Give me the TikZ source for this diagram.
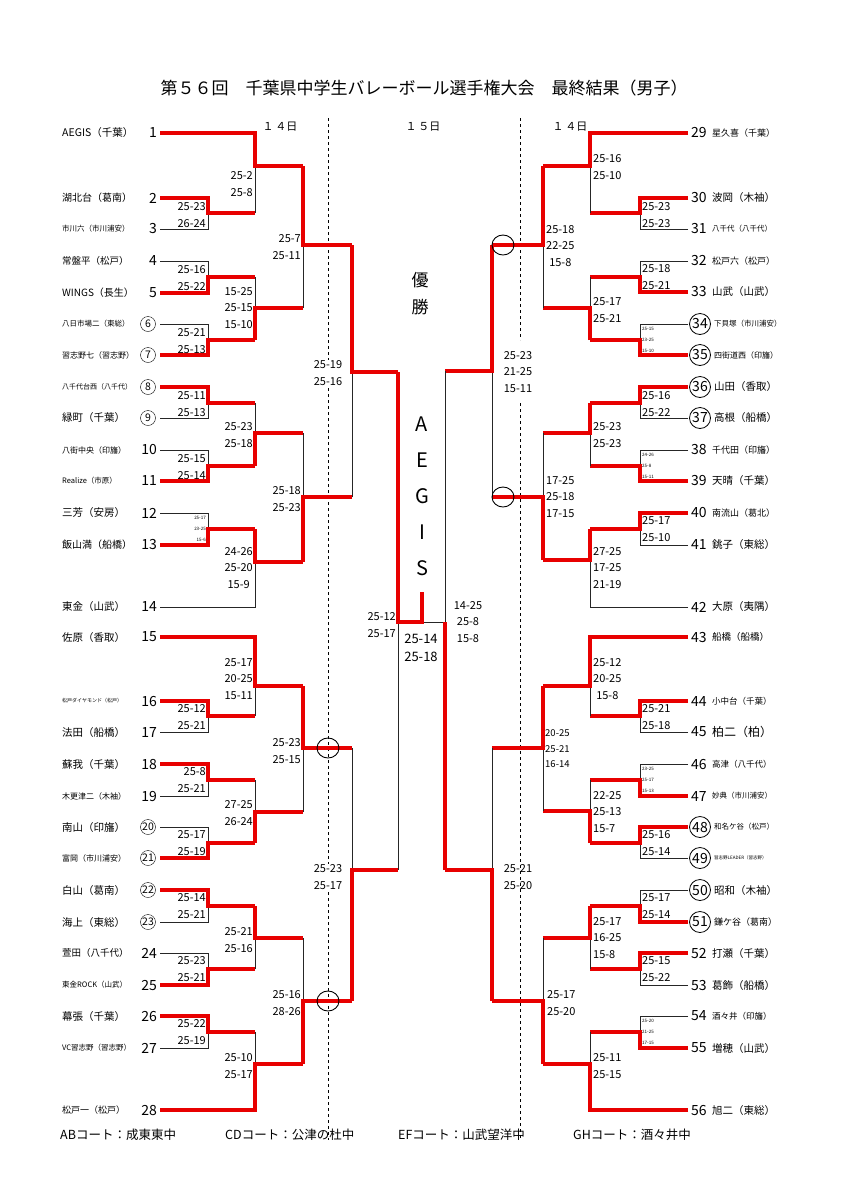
\documentclass[tikz,border=0pt]{standalone}
\usepackage{fontspec}
\setmainfont{Noto Sans CJK JP}
\usetikzlibrary{calc}
\definecolor{winred}{RGB}{232,0,0}
\tikzset{
  win/.style={winred,line width=3.4pt},
  lose/.style={black!85,line width=0.9pt},
  score/.style={inner sep=0pt,align=center,font=\fontsize{11}{16.5}\selectfont},
  tiny/.style={inner sep=0pt,font=\fontsize{4.5}{11}\selectfont},
  num/.style={inner sep=0pt,font=\fontsize{14}{14}\selectfont},
  cnumL/.style={circle,draw,inner sep=0.3pt,minimum size=15pt,font=\fontsize{10.5}{10.5}\selectfont},
  cnumR/.style={circle,draw,thick,inner sep=0.3pt,minimum size=21pt,font=\fontsize{14}{14}\selectfont},
}
% one match: winner end, loser end, column, middle, next column
\newcommand\mt[7]{\draw[lose] (#3,#4) -| (#5,#6); \draw[win] (#1,#2) -| (#5,#6) -- (#7,#6);}
\begin{document}
\begin{tikzpicture}[x=1pt,y=-1pt]
  \useasboundingbox (0,0) rectangle (849,1200);
  \fill[white] (0,0) rectangle (849,1200);
  \node[font=\fontsize{17}{17}\selectfont] (title) at (424,88) {第５６回　千葉県中学生バレーボール選手権大会　最終結果（男子）};
  \node[font=\fontsize{11}{11}\selectfont] (dayA) at (280,127) {１\,４日};
  \node[font=\fontsize{11}{11}\selectfont] (dayB) at (423,127) {１\,５日};
  \node[font=\fontsize{11}{11}\selectfont] (dayC) at (570,127) {１\,４日};
  % day borders
  \draw[dashed,line width=0.8pt] (328,118) -- (328,1140);
  \draw[dashed,line width=0.8pt] (520,118) -- (520,340);
  \draw[dashed,line width=0.8pt] (520,403) -- (520,1140);
  %
  % Left side, first round
  \foreach \yw/\yl/\ym in {198/229/213, 293/261/277, 355/324/340, 387/418/403, 481/450/466, 545/513/529,
      701/732/716, 764/796/780, 858/827/843, 890/922/906, 985/953/969, 1016/1048/1032}
    {\mt{160}{\yw}{160}{\yl}{208}{\ym}{255}}
  % Left side, later rounds
  \mt{160}{133}{255}{213}{255}{166}{303}
  \mt{255}{340}{255}{277}{255}{308}{303}
  \mt{255}{466}{255}{403}{255}{433}{303}
  \mt{255}{529}{160}{607}{255}{562}{303}
  \mt{160}{637}{255}{716}{255}{686}{303}
  \mt{255}{843}{255}{780}{255}{812}{303}
  \mt{255}{906}{255}{969}{255}{938}{303}
  \mt{160}{1110}{255}{1032}{255}{1064}{303}
  \mt{303}{166}{303}{308}{303}{245}{352}
  \mt{303}{562}{303}{433}{303}{497}{352}
  \mt{303}{686}{303}{812}{303}{748}{352}
  \mt{303}{1064}{303}{938}{303}{1001}{352}
  \mt{352}{245}{352}{497}{352}{372}{398}
  \mt{352}{1001}{352}{748}{352}{870}{398}
  %
  % Right side, first round
  \foreach \yw/\yl/\ym in {198/229/213, 292/261/277, 355/324/340, 387/418/403, 481/450/466, 513/545/529,
      701/732/716, 796/764/780, 827/858/843, 922/890/906, 953/985/969, 1048/1016/1032}
    {\mt{688}{\yw}{688}{\yl}{640}{\ym}{590}}
  % Right side, later rounds
  \mt{688}{133}{590}{213}{590}{166}{543}
  \mt{590}{340}{590}{277}{590}{308}{543}
  \mt{590}{403}{590}{466}{590}{433}{543}
  \mt{590}{529}{688}{607}{590}{560}{543}
  \mt{688}{637}{590}{716}{590}{686}{543}
  \mt{590}{843}{590}{780}{590}{811}{543}
  \mt{590}{906}{590}{969}{590}{938}{543}
  \mt{688}{1110}{590}{1032}{590}{1064}{543}
  \mt{543}{166}{543}{308}{543}{245}{492}
  \mt{543}{560}{543}{433}{543}{497}{492}
  \mt{543}{686}{543}{811}{543}{748}{492}
  \mt{543}{1064}{543}{938}{543}{1001}{492}
  \mt{492}{245}{492}{497}{492}{371}{445}
  \mt{492}{1001}{492}{748}{492}{870}{445}
  %
  % Final
  \coordinate (fin) at (422,622);
  \draw[lose] (398,622) -- (398,870);
  \draw[lose] (445,371) -- (445,622) -- (fin);
  \draw[win] (445,870) -- (445,622);
  \draw[win] (398,372) -- (398,622) -- (fin) -- (422,592);
  % court change marks
  \foreach \cx/\cy in {328/748, 328/1001, 503/245, 503/497}
    \draw[line width=0.9pt] (\cx,\cy) ellipse (11 and 10);
  %
  % Teams, left
  \foreach \y/\s/\t in {133/10.5/AEGIS（千葉）, 198/10/湖北台（葛南）, 229/7.5/市川六（市川浦安）, 261/9.5/常盤平（松戸）,
      293/10/WINGS（長生）, 324/7.5/八日市場二（東総）, 355/8/習志野七（習志野）, 387/7/八千代台西（八千代）,
      418/10.5/緑町（千葉）, 450/8/八街中央（印旛）, 481/7.5/Realize（市原）, 513/10.5/三芳（安房）,
      545/10/飯山満（船橋）, 607/10.5/東金（山武）, 637/10.5/佐原（香取）, 701/5/松戸ダイヤモンド（松戸）,
      732/10.5/法田（船橋）, 764/10.5/蘇我（千葉）, 796/8/木更津二（木袖）, 827/10.5/南山（印旛）,
      858/8/富岡（市川浦安）, 890/10.5/白山（葛南）, 922/10.5/海上（東総）, 953/9.5/萱田（八千代）,
      985/7.5/東金ROCK（山武）, 1016/10.5/幕張（千葉）, 1048/7.5/VC習志野（習志野）, 1110/9/松戸一（松戸）}
    \node[anchor=west,inner sep=0pt,font=\fontsize{\s}{\s}\selectfont] at (62,\y) {\t};
  \foreach \n/\y in {1/133, 2/198, 3/229, 4/261, 5/293, 10/450, 11/481, 12/513, 13/545, 14/607, 15/637,
      16/701, 17/732, 18/764, 19/796, 24/953, 25/985, 26/1016, 27/1048, 28/1110}
    \node[num,anchor=east] (L\n) at (157,\y) {\n};
  \foreach \n/\y in {6/324, 7/355, 8/387, 9/418, 20/827, 21/858, 22/890, 23/922}
    \node[cnumL] (L\n) at (148,\y) {\n};
  % Teams, right
  \foreach \y/\s/\t in {133/9/星久喜（千葉）, 198/10.5/波岡（木袖）, 229/7.5/八千代（八千代）, 261/9/松戸六（松戸）,
      292/10.5/山武（山武）, 450/9/千代田（印旛）, 481/10.5/天晴（千葉）,
      513/9/南流山（葛北）, 545/10.5/銚子（東総）, 607/10.5/大原（夷隅）, 637/9.5/船橋（船橋）,
      701/8.5/小中台（千葉）, 732/12/柏二（柏）, 764/8.5/高津（八千代）, 796/7.5/妙典（市川浦安）,
      953/10.5/打瀬（千葉）, 985/10.5/葛飾（船橋）, 1016/8.5/酒々井（印旛）, 1048/10.5/増穂（山武）, 1110/10.5/旭二（東総）}
    \node[anchor=west,inner sep=0pt,font=\fontsize{\s}{\s}\selectfont] at (712,\y) {\t};
  \foreach \y/\s/\t in {324/7.5/下貝塚（市川浦安）, 355/8/四街道西（印旛）, 387/10.5/山田（香取）, 418/10.5/高根（船橋）,
      827/7.5/和名ケ谷（松戸）, 858/4.5/習志野LEADER（習志野）, 890/10.5/昭和（木袖）, 922/9/鎌ケ谷（葛南）}
    \node[anchor=west,inner sep=0pt,font=\fontsize{\s}{\s}\selectfont] at (714,\y) {\t};
  \foreach \n/\y in {29/133, 30/198, 31/229, 32/261, 33/292, 38/450, 39/481, 40/513, 41/545, 42/607,
      43/637, 44/701, 45/732, 46/764, 47/796, 52/953, 53/985, 54/1016, 55/1048, 56/1110}
    \node[num,anchor=west] (R\n) at (691,\y) {\n};
  \foreach \n/\y in {34/324, 35/355, 36/387, 37/418, 48/827, 49/858, 50/890, 51/922}
    \node[cnumR] (R\n) at (700,\y) {\n};
  %
  % Scores, left
  \foreach \y/\t in {215/25-23\\26-24, 278/25-16\\25-22, 341/25-21\\25-13, 404/25-11\\25-13, 467/25-15\\25-14,
      717/25-12\\25-21, 780/25-8\\25-21, 843/25-17\\25-19, 906/25-14\\25-21, 969/25-23\\25-21, 1032/25-22\\25-19}
    \node[score,anchor=east,align=right] at (206,\y) {\t};
  \node[tiny,anchor=east,align=right] at (206,529) {25-17\\23-25\\15-6};
  \foreach \y/\t in {184/25-2\\25-8, 308/15-25\\25-15\\15-10, 435/25-23\\25-18, 568/24-26\\25-20\\15-9,
      679/25-17\\20-25\\15-11, 813/27-25\\26-24, 940/25-21\\25-16, 1066/25-10\\25-17}
    \node[score,anchor=east] at (253,\y) {\t};
  \foreach \y/\t in {247/25-7\\25-11, 499/25-18\\25-23, 751/25-23\\25-15, 1003/25-16\\28-26}
    \node[score,anchor=east,align=right] at (301,\y) {\t};
  \node[score,fill=white,inner sep=1pt] at (328,373) {25-19\\25-16};
  \node[score,fill=white,inner sep=1pt] at (328,877) {25-23\\25-17};
  \node[score,anchor=east,align=right] at (396,625) {25-12\\25-17};
  \node[score,font=\fontsize{13}{18}\selectfont] at (421,648) {25-14\\25-18};
  \node[score] at (468,622) {14-25\\25-8\\15-8};
  % Scores, right
  \foreach \y/\t in {215/25-23\\25-23, 277/25-18\\25-21, 404/25-16\\25-22, 529/25-17\\25-10,
      717/25-21\\25-18, 843/25-16\\25-14, 906/25-17\\25-14, 969/25-15\\25-22}
    \node[score,anchor=west,align=left] at (642,\y) {\t};
  \foreach \y/\t in {340/25-15\\23-25\\15-10, 466/24-26\\25-8\\15-11, 780/23-25\\25-17\\15-13, 1032/25-20\\21-25\\17-15}
    \node[tiny,anchor=west,align=left] at (642,\y) {\t};
  \foreach \y/\t in {167/25-16\\25-10, 310/25-17\\25-21, 435/25-23\\25-23, 568/27-25\\17-25\\21-19,
      679/25-12\\20-25\\15-8, 1066/25-11\\25-15}
    \node[score,anchor=west] at (593,\y) {\t};
  \foreach \y/\t in {812/22-25\\25-13\\15-7, 938/25-17\\16-25\\15-8}
    \node[score,anchor=west,align=left] at (593,\y) {\t};
  \node[score,anchor=west] at (546,246) {25-18\\22-25\\15-8};
  \node[score,anchor=west,align=left] at (546,497) {17-25\\25-18\\17-15};
  \node[score,anchor=west,align=left,font=\fontsize{9.5}{15.5}\selectfont] at (545,749) {20-25\\25-21\\16-14};
  \node[score,anchor=west,align=left] at (547,1003) {25-17\\25-20};
  \node[score] at (518,372) {25-23\\21-25\\15-11};
  \node[score] at (518,877) {25-21\\25-20};
  %
  % Champion
  \node[font=\fontsize{17}{27}\selectfont,align=center] (champ) at (420,294) {優\\勝};
  \node[font=\fontsize{20}{36}\selectfont,align=center] (aegis) at (422,496) {A\\E\\G\\I\\S};
  % Courts
  \foreach \x/\t in {60/ABコート：成東東中, 225/CDコート：公津の杜中, 398/EFコート：山武望洋中, 573/GHコート：酒々井中}
    \node[anchor=west,inner sep=0pt,font=\fontsize{12.5}{12.5}\selectfont] at (\x,1135) {\t};
\end{tikzpicture}
\end{document}
